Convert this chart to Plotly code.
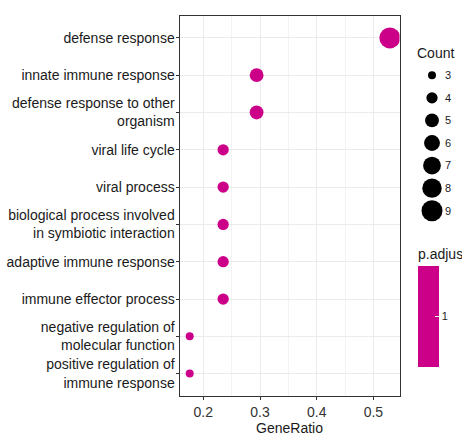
import plotly.graph_objects as go

terms = [
    "defense response",
    "innate immune response",
    "defense response to other\norganism",
    "viral life cycle",
    "viral process",
    "biological process involved\nin symbiotic interaction",
    "adaptive immune response",
    "immune effector process",
    "negative regulation of\nmolecular function",
    "positive regulation of\nimmune response",
]
gene_ratio = [0.529, 0.294, 0.294, 0.235, 0.235, 0.235, 0.235, 0.235, 0.176, 0.176]
counts = [9, 5, 5, 4, 4, 4, 4, 4, 3, 3]
p_adjust = [1.0] * 10
legend_counts = [3, 4, 5, 6, 7, 8, 9]
x_ticks = [0.2, 0.3, 0.4, 0.5]

MAGENTA = "#CC0088"
W, H = 462, 436
FONT = "Liberation Sans, Arial, Helvetica, sans-serif"


def diam(c, cmin=3, cmax=9, dmin=8.0, dmax=21.0):
    return (dmin ** 2 + (dmax ** 2 - dmin ** 2) * (c - cmin) / (cmax - cmin)) ** 0.5


labels = [t.replace("\n", "<br>") for t in terms]

fig = go.Figure()
fig.add_trace(go.Scatter(
    x=gene_ratio, y=labels, mode="markers",
    marker=dict(size=[diam(c) for c in counts], color=p_adjust, coloraxis="coloraxis",
                line=dict(width=0), opacity=1),
    showlegend=False, xaxis="x", yaxis="y",
))

fig.add_trace(go.Scatter(
    x=[0] * len(legend_counts), y=[str(c) for c in legend_counts], mode="markers",
    marker=dict(size=[diam(c) for c in legend_counts], color="black", line=dict(width=0), opacity=1),
    showlegend=False, xaxis="x2", yaxis="y2", hoverinfo="skip",
))

px0, px1 = 179.5, 399.5
py0, py1 = 15.5, 396

fig.update_layout(
    width=W, height=H,
    margin=dict(l=0, r=0, t=0, b=0, autoexpand=False),
    paper_bgcolor="white", plot_bgcolor="white",
    font=dict(family=FONT, size=14, color="#1a1a1a"),
    xaxis=dict(
        domain=[px0 / W, px1 / W], range=[0.158, 0.546], automargin=False,
        tickvals=x_ticks, ticktext=[f"{v:g}" for v in x_ticks],
        showgrid=True, gridcolor="#EBEBEB", gridwidth=1,
        minor=dict(dtick=0.05, tick0=0, showgrid=True, gridcolor="#F3F3F3", gridwidth=0.6, ticks=""),
        ticks="outside", ticklen=3, tickcolor="#333333", tickfont=dict(size=14, color="#333333"),
        showline=True, linecolor="#333333", linewidth=1, mirror=True,
        zeroline=False,
        title=dict(text="GeneRatio", font=dict(size=14, color="#1a1a1a"), standoff=2),
        anchor="y",
    ),
    yaxis=dict(
        domain=[1 - py1 / H, 1 - py0 / H], automargin=False,
        type="category", categoryorder="array", categoryarray=labels,
        range=[len(labels) - 0.4, -0.6],
        showgrid=True, gridcolor="#EBEBEB", gridwidth=1,
        ticks="outside", ticklen=3, tickcolor="#333333",
        tickfont=dict(size=14, color="#1a1a1a"),
        ticklabelstandoff=-2,
        showline=True, linecolor="#333333", linewidth=1, mirror=True,
        zeroline=False, anchor="x",
    ),
    xaxis2=dict(
        domain=[420 / W, 444 / W], range=[-1, 1], visible=False, anchor="y2", automargin=False,
    ),
    yaxis2=dict(
        domain=[1 - 222 / H, 1 - 64 / H], automargin=False,
        type="category", categoryorder="array", categoryarray=[str(c) for c in legend_counts],
        range=[len(legend_counts) - 0.5, -0.5],
        side="right", anchor="x2", showgrid=False, showline=False, zeroline=False,
        ticks="", tickfont=dict(size=11, color="#1a1a1a"),
    ),
    coloraxis=dict(
        colorscale=[[0, MAGENTA], [1, MAGENTA]], cmin=0.99, cmax=1.01,
        colorbar=dict(
            x=418 / W, xanchor="left", xref="paper",
            y=1 - 316.5 / H, yanchor="middle", yref="paper",
            thickness=21, thicknessmode="pixels",
            len=101, lenmode="pixels",
            outlinewidth=0, tickvals=[1.0], ticktext=["1"],
            ticks="inside", ticklen=4, tickcolor="white", tickwidth=1,
            tickfont=dict(size=11, color="#1a1a1a"),
            xpad=0, ypad=0,
        ),
    ),
    annotations=[
        dict(text="Count", x=415 / W, y=1 - 53 / H, xref="paper", yref="paper",
             xanchor="left", yanchor="middle", showarrow=False, font=dict(size=14, color="#1a1a1a")),
        dict(text="p.adjust", x=416 / W, y=1 - 254 / H, xref="paper", yref="paper",
             xanchor="left", yanchor="middle", showarrow=False, font=dict(size=14, color="#1a1a1a")),
    ],
)

fig.write_html("out.html", config={"displayModeBar": False},
               post_script="document.body.style.margin='0';document.body.style.padding='0';")
